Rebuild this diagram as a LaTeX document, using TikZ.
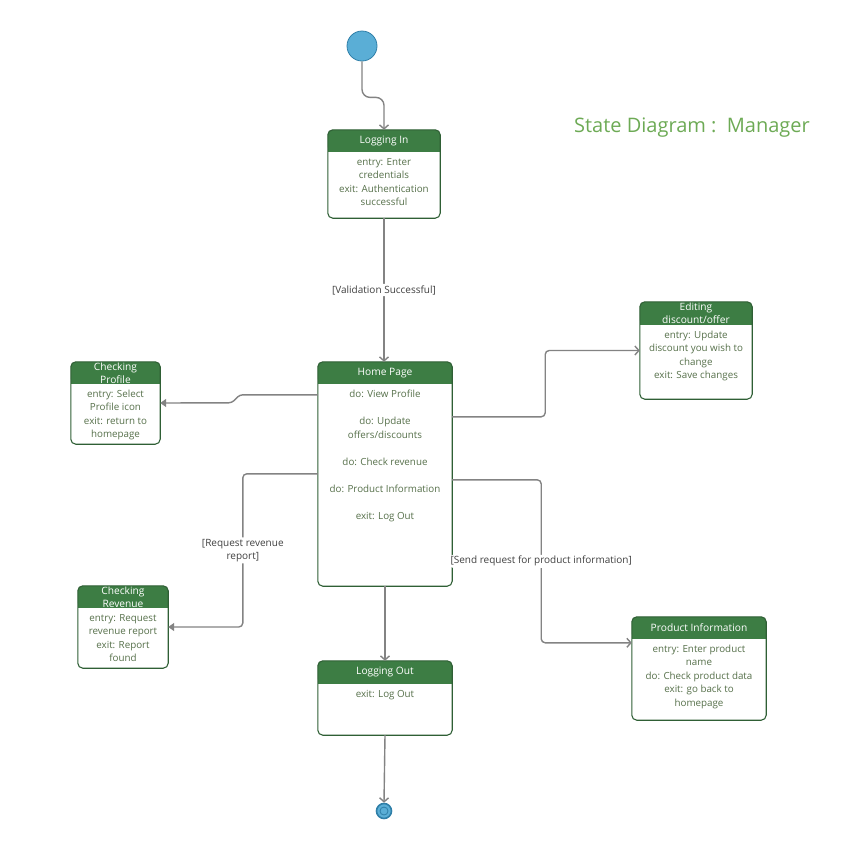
\documentclass[tikz,border=0pt]{standalone}
\usepackage{fontspec}
\setmainfont{Open Sans}
\usetikzlibrary{calc,arrows.meta}
\definecolor{headgreen}{HTML}{3D7D44}
\definecolor{framegreen}{HTML}{2F5F35}
\definecolor{bodygreen}{HTML}{56704A}
\definecolor{titlegreen}{HTML}{6DAA55}
\definecolor{linegray}{HTML}{838383}
\definecolor{dotblue}{HTML}{5AAED6}
\definecolor{dotrim}{HTML}{2F7FA8}
\tikzset{
  state/.style={rectangle, fill=white, inner sep=0pt},
  headtext/.style={text=white, align=center, font=\fontsize{10.2}{12.8}\selectfont},
  bodytext/.style={text=bodygreen, align=center, inner sep=0pt, anchor=north, font=\fontsize{9.8}{13.5}\selectfont},
  titletext/.style={text=titlegreen, font=\fontsize{20}{24}\selectfont},
  guard/.style={text=black!75, fill=white, align=center, inner sep=1.5pt, font=\fontsize{10}{13.5}\selectfont},
  conn/.style={draw=linegray, line width=1.4pt, rounded corners=4pt},
  openhead/.style={-{Straight Barb[length=4pt,width=9pt]}},
  fillhead/.style={-{Triangle[length=6pt,width=8pt]}},
  initdot/.style={circle, minimum size=30pt, inner sep=0pt, fill=dotblue, draw=dotrim, line width=0.8pt},
  finaldot/.style={circle, minimum size=15pt, inner sep=0pt, fill=dotblue, draw=dotrim, line width=1.6pt},
}
% header band and frame of a state box
\newcommand{\statehead}[3][22]{%
  \fill[headgreen, rounded corners=5pt] (#2.north west) rectangle ([yshift=-#1pt]#2.north east);
  \fill[headgreen] ([yshift=-8pt]#2.north west) rectangle ([yshift=-#1pt]#2.north east);
  \node[headtext] at ([yshift=-#1pt/2]#2.north) {#3};
  \draw[framegreen, line width=1.1pt, rounded corners=5pt] (#2.north west) rectangle (#2.south east);}

\begin{document}
\begin{tikzpicture}[x=1pt, y=-1pt]
		%%%%% START %%%%%
		\useasboundingbox (0,0) rectangle (849,855);
		
		\node[titletext] (title) at (692,128) {State Diagram :\ \ Manager};
		
		\node[initdot] (init) at (362,46) {};
		\node[finaldot] (final) at (384,811) {};
		\draw[dotrim, line width=0.8pt] (final) circle (4pt);
		
		\node[state, minimum width=112pt, minimum height=88pt] (login) at (384,174) {};
		\statehead{login}{Logging In}
		\node[bodytext] at ([yshift=-28pt]login.north) {entry: Enter\\credentials\\exit: Authentication\\successful};
		
		\node[state, minimum width=134pt, minimum height=224pt] (home) at (385,474) {};
		\statehead{home}{Home Page}
		\node[bodytext] at ([yshift=-28pt]home.north) {do: View Profile\\[13.5pt]do: Update\\offers/discounts\\[13.5pt]do: Check revenue\\[13.5pt]do: Product Information\\[13.5pt]exit: Log Out};
		
		\node[state, minimum width=89pt, minimum height=82pt] (prof) at (115.5,403) {};
		\statehead{prof}{Checking\\Profile}
		\node[bodytext] at ([yshift=-28pt]prof.north) {entry: Select\\Profile icon\\exit: return to\\homepage};
		
		\node[state, minimum width=90pt, minimum height=82pt] (rev) at (123,627) {};
		\statehead{rev}{Checking\\Revenue}
		\node[bodytext] at ([yshift=-28pt]rev.north) {entry: Request\\revenue report\\exit: Report\\found};
		
		\node[state, minimum width=112pt, minimum height=97pt] (edit) at (696,350.5) {};
		\statehead[23]{edit}{Editing\\discount/offer}
		\node[bodytext] at ([yshift=-29pt]edit.north) {entry: Update\\discount you wish to\\change\\exit: Save changes};
		
		\node[state, minimum width=134pt, minimum height=103pt] (prod) at (699,668.5) {};
		\statehead{prod}{Product Information}
		\node[bodytext] at ([yshift=-28pt]prod.north) {entry: Enter product\\name\\do: Check product data\\exit: go back to\\homepage};
		
		\node[state, minimum width=134pt, minimum height=74pt] (logout) at (385,698) {};
		\statehead[23]{logout}{Logging Out}
		\node[bodytext] at ([yshift=-29pt]logout.north) {exit: Log Out};
		
		\draw[conn, openhead, rounded corners=8pt] (init.south) -- ++(0,36) -- ++(22,0) -- (login.north);
		\draw[conn, openhead] (login.south) -- node[guard] {[Validation Successful]} (login.south |- home.north);
		\draw[conn, fillhead, rounded corners=3pt] ([yshift=-33pt]home.north west) -- ++(-78,0) -- ++(-8,8) -- (prof.east);
		\draw[conn, fillhead] ([yshift=-112pt]home.north west) -- ++(-75,0) |- node[guard, pos=0.25] {[Request revenue\\report]} (rev.east);
		\draw[conn, openhead] ([yshift=-55pt]home.north east) -- ++(93,0) |- (edit.west);
		\draw[conn, openhead] ([yshift=-118pt]home.north east) -- ++(89,0) |- node[guard, pos=0.25] {[Send request for product information]} ([yshift=-26pt]prod.north west);
		\draw[conn, openhead] (home.south) -- (logout.north);
		\draw[conn, openhead] (logout.south) -- (final.north);
		
		%%%%% END %%%%%
\end{tikzpicture}
\end{document}
